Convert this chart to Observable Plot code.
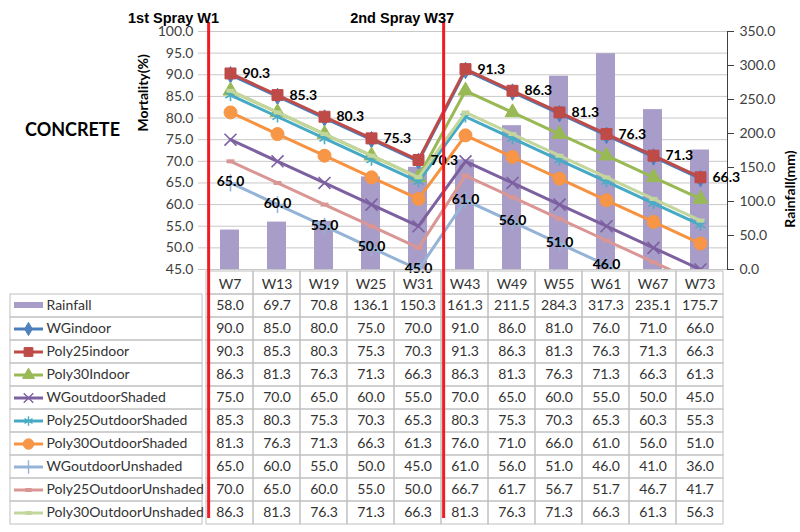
<!DOCTYPE html>
<html><head><meta charset="utf-8">
<script src="https://cdn.jsdelivr.net/npm/d3@7"></script>
<script src="https://cdn.jsdelivr.net/npm/@observablehq/plot@0.6"></script>
<style>
body{margin:0;background:#fff;}
#wrap{position:relative;width:800px;height:532px;overflow:hidden;font-family:Lato,sans-serif;background:#fff;}
#wrap svg{position:absolute;left:0;top:0;}
#concrete{position:absolute;left:25px;top:118px;font:bold 18px Lato,sans-serif;color:#000;}
</style></head><body>
<div id="wrap"><div id="concrete">CONCRETE</div></div>
<script>
// ---------- data ----------
const weeks = ["W7","W13","W19","W25","W31","W43","W49","W55","W61","W67","W73"];
const rainfall = [58.0,69.7,70.8,136.1,150.3,161.3,211.5,284.3,317.3,235.1,175.7];
const seriesNames = ["WGindoor","Poly25indoor","Poly30Indoor","WGoutdoorShaded","Poly25OutdoorShaded","Poly30OutdoorShaded","WGoutdoorUnshaded","Poly25OutdoorUnshaded","Poly30OutdoorUnshaded"];
const WGindoor              = [90.0,85.0,80.0,75.0,70.0,91.0,86.0,81.0,76.0,71.0,66.0];
const Poly25indoor          = [90.3,85.3,80.3,75.3,70.3,91.3,86.3,81.3,76.3,71.3,66.3];
const Poly30Indoor          = [86.3,81.3,76.3,71.3,66.3,86.3,81.3,76.3,71.3,66.3,61.3];
const WGoutdoorShaded       = [75.0,70.0,65.0,60.0,55.0,70.0,65.0,60.0,55.0,50.0,45.0];
const Poly25OutdoorShaded   = [85.3,80.3,75.3,70.3,65.3,80.3,75.3,70.3,65.3,60.3,55.3];
const Poly30OutdoorShaded   = [81.3,76.3,71.3,66.3,61.3,76.0,71.0,66.0,61.0,56.0,51.0];
const WGoutdoorUnshaded     = [65.0,60.0,55.0,50.0,45.0,61.0,56.0,51.0,46.0,41.0,36.0];
const Poly25OutdoorUnshaded = [70.0,65.0,60.0,55.0,50.0,66.7,61.7,56.7,51.7,46.7,41.7];
const Poly30OutdoorUnshaded = [86.3,81.3,76.3,71.3,66.3,81.3,76.3,71.3,66.3,61.3,56.3];
const seriesValues = [WGindoor,Poly25indoor,Poly30Indoor,WGoutdoorShaded,Poly25OutdoorShaded,Poly30OutdoorShaded,WGoutdoorUnshaded,Poly25OutdoorUnshaded,Poly30OutdoorUnshaded];
const mortalityTicks = [45,50,55,60,65,70,75,80,85,90,95,100];
const rainTicks = [0,50,100,150,200,250,300,350];
const sprayLabels = ["1st Spray W1","2nd Spray W37"];
const sprayWeeks = ["W7","W43"];

// ---------- styles ----------
const lineColors = ["#4a7ebb","#be4b48","#98b954","#7d60a0","#46aac5","#f69240","#95b3d7","#d99694","#c3d69b"];
const markColors = ["#4f81bd","#be4b48","#98b954","#7d60a0","#4bacc6","#f79646","#95b3d7","#d99694","#c3d69b"];
const dash = {draw(ctx, size){const r=Math.sqrt(size/Math.PI); ctx.moveTo(-r,0); ctx.lineTo(r,0);}};
const legLine = {draw(ctx){ctx.moveTo(-14.5,0); ctx.lineTo(14.5,0);}};
const symbols = ["diamond","square","triangle","times","asterisk","circle","plus",dash,dash];
const symFilled = [true,true,true,false,false,true,false,false,false];
const symR = [5,6.2,5.5,5.5,5.5,6.5,5.5,4,4];
const barColor = "#a89cc8";
const gridColor = "#c8c8c8";
const tableColor = "#c0c0c0";

// ---------- derived tables ----------
const rainRows = weeks.map((w,i)=>({week:w, rain:rainfall[i]}));
const rows = seriesNames.flatMap((s,i)=>weeks.map((w,j)=>({series:s, idx:i, week:w, value:seriesValues[i][j]})));
const rowKeys = ["head","Rainfall",...seriesNames];
const headCells = weeks.map(w=>({week:w,row:"head",text:w}));
const bodyCells = [
  ...weeks.map((w,j)=>({week:w,row:"Rainfall",text:rainfall[j].toFixed(1)})),
  ...rows.map(d=>({week:d.week,row:d.series,text:d.value.toFixed(1)}))
];
const tableCells = [...headCells, ...bodyCells];
const legendRows = rowKeys.slice(1).map(k=>({key:"legend",row:k}));

const W=800,H=532,ML=202,MR=73,MT=31,MB=263;
const step=(W-ML-MR)/weeks.length;
const base = {background:"transparent",fontFamily:"Lato, sans-serif",fontSize:"14px",color:"#404040",overflow:"visible"};
const xPoint = {type:"point",domain:weeks,padding:0.5,axis:null};
const yMort = {domain:[45,100]};
const wrap = document.getElementById("wrap");
const add = p => wrap.appendChild(p);

// grid + left axis
add(Plot.plot({width:W,height:H,marginLeft:ML,marginRight:MR,marginTop:MT,marginBottom:MB,style:base,
  x:xPoint,
  y:{...yMort,ticks:mortalityTicks,tickFormat:d3.format(".1f"),tickSize:0,tickPadding:9,label:null,axis:"left"},
  marks:[
    Plot.ruleY(mortalityTicks,{stroke:gridColor,strokeWidth:1,insetLeft:-4}),
    Plot.text(["Mortality(%)"],{frameAnchor:"left",rotate:-90,dx:-59,dy:-19,fontWeight:"bold",fontSize:14,fill:"#000"})
  ]}));

// rainfall bars + right axis
add(Plot.plot({width:W,height:H,marginLeft:ML,marginRight:MR,marginTop:MT,marginBottom:MB,style:base,
  x:{type:"band",domain:weeks,paddingInner:0.6,paddingOuter:0.3,axis:null},
  y:{domain:[0,350],ticks:rainTicks,tickFormat:d3.format(".1f"),axis:"right",tickSize:6,tickPadding:6,label:null,line:true},
  marks:[
    Plot.barY(rainRows,{x:"week",y:"rain",fill:barColor}),
    Plot.text(["Rainfall(mm)"],{frameAnchor:"right",rotate:-90,dx:63,fontWeight:"bold",fontSize:14,fill:"#000"})
  ]}));

// lines + markers + labels
const lineMarks = [];
seriesNames.forEach((s,i)=>{
  lineMarks.push(Plot.line(rows,{filter:d=>d.series===s,x:"week",y:"value",stroke:lineColors[i],strokeWidth:3,clip:true}));
  lineMarks.push(Plot.dot(rows,{filter:d=>d.series===s,x:"week",y:"value",symbol:symbols[i],r:symR[i],
    fill:symFilled[i]?markColors[i]:"none",stroke:markColors[i],strokeWidth:symFilled[i]?1:(i>=7?4:1.6),clip:true}));
});
lineMarks.push(Plot.text(rows,{filter:d=>d.series==="Poly25indoor",x:"week",y:"value",text:d=>d.value.toFixed(1),textAnchor:"start",dx:12,fontWeight:"bold",fontSize:14,fill:"#000"}));
lineMarks.push(Plot.text(rows,{filter:d=>d.series==="WGoutdoorUnshaded"&&d.value>=45,x:"week",y:"value",text:d=>d.value.toFixed(1),dy:-1,fontWeight:"bold",fontSize:14,fill:"#000"}));
add(Plot.plot({width:W,height:H,marginLeft:ML,marginRight:MR,marginTop:MT,marginBottom:MB,style:base,
  x:xPoint,y:{...yMort,axis:null},marks:lineMarks}));

// data table
add(Plot.plot({width:W,height:H,marginLeft:ML,marginRight:MR,marginTop:269,marginBottom:7,style:{...base,color:"#333"},
  x:{type:"band",domain:weeks,padding:0,axis:null},
  y:{type:"band",domain:rowKeys,padding:0,axis:null},
  marks:[
    Plot.cell(tableCells,{x:"week",y:"row",fill:"none",stroke:tableColor,inset:0}),
    Plot.text(bodyCells,{x:"week",y:"row",text:"text",fontSize:14,fill:"#333"}),
    Plot.text(headCells,{x:"week",y:"row",text:"text",dy:2,fontSize:14,fill:"#333"})
  ]}));

// legend column
const legMarks = [
  Plot.cell(legendRows,{x:"key",y:"row",fill:"none",stroke:tableColor,inset:0}),
  Plot.text(legendRows,{x:"key",y:"row",text:"row",textAnchor:"start",dx:-60,fontSize:14,fill:"#333"}),
  Plot.dot(legendRows.slice(0,1),{x:"key",y:"row",symbol:legLine,stroke:barColor,strokeWidth:6,dx:-78,dy:-1})
];
seriesNames.forEach((s,i)=>{
  legMarks.push(Plot.dot(legendRows.slice(i+1,i+2),{x:"key",y:"row",symbol:legLine,stroke:lineColors[i],strokeWidth:3,dx:-78}));
  legMarks.push(Plot.dot(legendRows.slice(i+1,i+2),{x:"key",y:"row",symbol:symbols[i],r:symR[i]*0.8,
    fill:symFilled[i]?markColors[i]:"none",stroke:markColors[i],strokeWidth:symFilled[i]?1:(i>=7?4:1.4),dx:-78}));
});
add(Plot.plot({width:W,height:H,marginLeft:10,marginRight:W-ML,marginTop:269,marginBottom:7,style:{...base,color:"#333"},
  x:{type:"band",domain:["legend"],padding:0,axis:null},
  y:{type:"band",domain:rowKeys,padding:0,axis:null},
  marks:legMarks}));

// overlay: spray lines and titles
add(Plot.plot({width:W,height:H,marginLeft:ML,marginRight:MR,marginTop:22,marginBottom:14,style:base,
  x:xPoint,
  marks:[
    Plot.ruleX(sprayWeeks,{x:d=>d,stroke:"#ee1c25",strokeWidth:3,dx:-step/2+2}),
    Plot.text(sprayLabels,{x:(d,i)=>sprayWeeks[i],frameAnchor:"top",textAnchor:"end",dx:-step/2+12.5,dy:-9.5,
      fontFamily:"Liberation Sans, Arial, sans-serif",fontWeight:"bold",fontSize:14.5,fill:"#000"})
  ]}));
</script>
</body></html>
